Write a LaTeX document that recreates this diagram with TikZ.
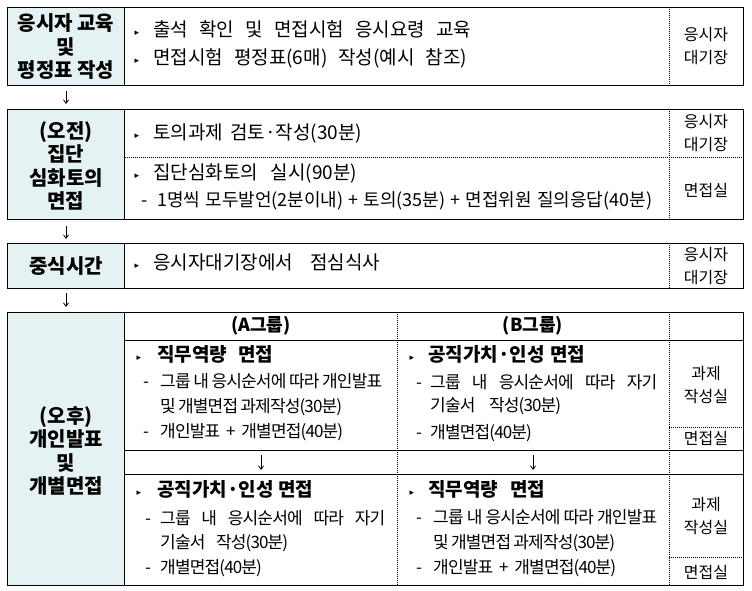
\documentclass[tikz,border=0pt]{standalone}
\usepackage{fontspec}
\setmainfont{Noto Sans CJK KR}
\newfontfamily\symf{DejaVu Sans}
\newfontfamily\lsn[LetterSpace=-5]{Noto Sans CJK KR}
\usetikzlibrary{arrows.meta}
\definecolor{hdrfill}{HTML}{E4F2F4}
\newcommand\fitbox[2]{\makebox[#1pt][s]{#2}}
\tikzset{
  frame/.style={line width=0.9pt},
  dotl/.style={line width=0.8pt, dash pattern=on 0.9pt off 1.1pt},
  hdr/.style={align=center, inner sep=0pt, font=\bfseries\fontsize{20}{23.5}\selectfont},
  body/.style={anchor=west, inner sep=0pt, font=\fontsize{19}{19}\selectfont, text height=0.8em, text depth=0.12em},
  bodys/.style={anchor=west, inner sep=0pt, font=\fontsize{18}{18}\selectfont, text height=0.8em, text depth=0.12em},
  tbody/.style={anchor=west, inner sep=0pt, font=\lsn\fontsize{17}{17}\selectfont, text height=0.8em, text depth=0.12em},
  tbold/.style={anchor=west, inner sep=0pt, font=\bfseries\fontsize{19}{19}\selectfont, text height=0.8em, text depth=0.12em},
  grp/.style={inner sep=0pt, font=\bfseries\fontsize{18}{18}\selectfont},
  room/.style={align=center, inner sep=0pt, font=\fontsize{16}{23}\selectfont},
  bulnode/.style={inner sep=0pt, font=\symf\fontsize{9}{9}\selectfont},
  arr/.style={-{Straight Barb[length=3.5pt,width=5pt]}, line width=0.8pt},
}
\begin{document}
\begin{tikzpicture}[x=1pt,y=-1pt]
\useasboundingbox (0,0) rectangle (752,591);

% ---------- Box 1 ----------
\fill[hdrfill] (7.5,7.5) rectangle (124.5,85);
\draw[frame] (7.5,7.5) rectangle (743.5,85);
\draw[frame] (124.5,7.5) -- (124.5,85);
\draw[dotl] (669,7.5) -- (669,85);
\node[hdr] (h1) at (66,47) {응시자 교육\\및\\평정표 작성};
\node[bulnode] (b11) at (137,33) {▸};
\node[body] (t11) at (153,33) {\fitbox{318}{출석 확인 및 면접시험 응시요령 교육}};
\node[bulnode] (b12) at (137,61) {▸};
\node[body] (t12) at (153,61) {\fitbox{314}{면접시험 평정표(6매) 작성(예시 참조)}};
\node[room] (r1) at (706,46.5) {응시자\\대기장};

% arrow 1
\coordinate (a1s) at (66,91);
\coordinate (a1e) at (66,104);
\draw[arr] (a1s) -- (a1e);

% ---------- Box 2 ----------
\fill[hdrfill] (7.5,109) rectangle (124.5,219);
\draw[frame] (7.5,109) rectangle (743.5,219);
\draw[frame] (124.5,109) -- (124.5,219);
\draw[dotl] (669,109) -- (669,219);
\draw[dotl] (124.5,157) -- (743.5,157);
\node[hdr] (h2) at (66,166) {(오전)\\집단\\심화토의\\면접};
\node[bulnode] (b21) at (137,136) {▸};
\node[body] (t21) at (153,136) {\fitbox{209}{토의과제 검토·작성(30분)}};
\node[bulnode] (b22) at (137,176) {▸};
\node[body] (t22) at (153,176) {\fitbox{204}{집단심화토의 실시(90분)}};
\node[bodys] (d23) at (141,203) {-};
\node[bodys] (t23) at (157,203) {\fitbox{495}{1명씩 모두발언(2분이내) + 토의(35분) + 면접위원 질의응답(40분)}};
\node[room] (r21) at (706,133.5) {응시자\\대기장};
\node[room] (r22) at (706,190) {면접실};

% arrow 2
\coordinate (a2s) at (66,226);
\coordinate (a2e) at (66,239);
\draw[arr] (a2s) -- (a2e);

% ---------- Box 3 ----------
\fill[hdrfill] (7.5,243) rectangle (124.5,288);
\draw[frame] (7.5,243) rectangle (743.5,288);
\draw[frame] (124.5,243) -- (124.5,288);
\draw[dotl] (669,243) -- (669,288);
\node[hdr] (h3) at (66,266) {중식시간};
\node[bulnode] (b31) at (137,266) {▸};
\node[body] (t31) at (153,266) {\fitbox{227}{응시자대기장에서 점심식사}};
\node[room] (r3) at (706,266) {응시자\\대기장};

% arrow 3
\coordinate (a3s) at (66,293);
\coordinate (a3e) at (66,307);
\draw[arr] (a3s) -- (a3e);

% ---------- Box 4 ----------
\fill[hdrfill] (7.5,312) rectangle (124.5,585);
\draw[frame] (7.5,312) rectangle (743,585);
\draw[frame] (124.5,312) -- (124.5,585);
\draw[frame] (124.5,340) -- (743,340);
\draw[frame] (124.5,450) -- (743,450);
\draw[frame] (124.5,474) -- (743,474);
\draw[dotl] (397,312) -- (397,585);
\draw[dotl] (669,312) -- (669,585);
\draw[dotl] (669,427) -- (743,427);
\draw[dotl] (669,557) -- (743,557);
\node[hdr] (h4) at (66,451) {(오후)\\개인발표\\및\\개별면접};
\node[grp] (ga) at (261,326) {(A그룹)};
\node[grp] (gb) at (533,326) {(B그룹)};

% row A1
\node[bulnode] (ba1) at (139,358) {▸};
\node[tbold] (ta1) at (157,358) {\fitbox{116}{직무역량 면접}};
\node[tbody] (da2) at (143,384) {-};
\node[tbody] (ta2) at (160,384) {\fitbox{222}{그룹 내 응시순서에 따라 개인발표}};
\node[tbody] (ta3) at (160,409) {\fitbox{182}{및 개별면접 과제작성(30분)}};
\node[tbody] (da4) at (143,434) {-};
\node[tbody] (ta4) at (160,434) {\fitbox{183}{개인발표 + 개별면접(40분)}};
% row B1
\node[bulnode] (bb1) at (412,358) {▸};
\node[tbold] (tb1) at (428,358) {\fitbox{157}{공직가치·인성 면접}};
\node[tbody] (db2) at (416,385) {-};
\node[tbody] (tb2) at (430,385) {\fitbox{227}{그룹 내 응시순서에 따라 자기}};
\node[tbody] (tb3) at (430,408) {\fitbox{131}{기술서 작성(30분)}};
\node[tbody] (db4) at (416,435) {-};
\node[tbody] (tb4) at (430,435) {개별면접(40분)};
\node[room] (r41) at (706,385.5) {과제\\작성실};
\node[room] (r42) at (706,438) {면접실};

% arrows in table
\coordinate (aas) at (261,455);
\coordinate (aae) at (261,470);
\draw[arr] (aas) -- (aae);
\coordinate (abs) at (533,455);
\coordinate (abe) at (533,470);
\draw[arr] (abs) -- (abe);

% row A2
\node[bulnode] (ba2) at (139,493) {▸};
\node[tbold] (ta5) at (157,493) {\fitbox{156}{공직가치·인성 면접}};
\node[tbody] (da6) at (145,521) {-};
\node[tbody] (ta6) at (160,521) {\fitbox{225}{그룹 내 응시순서에 따라 자기}};
\node[tbody] (ta7) at (160,545) {\fitbox{128}{기술서 작성(30분)}};
\node[tbody] (da8) at (145,570) {-};
\node[tbody] (ta8) at (160,570) {개별면접(40분)};
% row B2
\node[bulnode] (bb2) at (412,493) {▸};
\node[tbold] (tb5) at (428,493) {\fitbox{117}{직무역량 면접}};
\node[tbody] (db6) at (416,520) {-};
\node[tbody] (tb6) at (433,520) {\fitbox{224}{그룹 내 응시순서에 따라 개인발표}};
\node[tbody] (tb7) at (433,545) {\fitbox{182}{및 개별면접 과제작성(30분)}};
\node[tbody] (db8) at (416,570) {-};
\node[tbody] (tb8) at (433,570) {\fitbox{183}{개인발표 + 개별면접(40분)}};
\node[room] (r43) at (706,516.5) {과제\\작성실};
\node[room] (r44) at (706,572) {면접실};
\end{tikzpicture}
\end{document}
